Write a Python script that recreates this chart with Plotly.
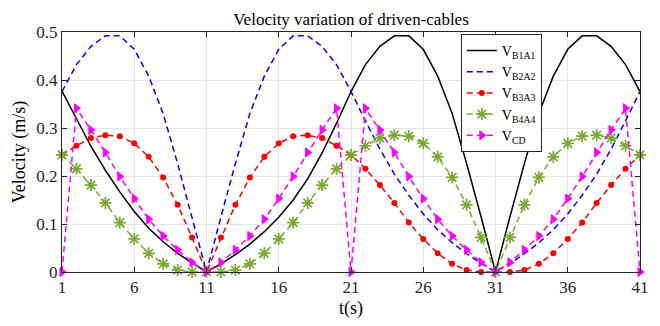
import plotly.graph_objects as go

t = list(range(1, 42))

v_b1a1 = [0.377, 0.320, 0.262, 0.212, 0.167, 0.126, 0.091, 0.063, 0.039, 0.019, 0.0,
          0.017, 0.036, 0.058, 0.084, 0.114, 0.150, 0.194, 0.248, 0.310,
          0.376, 0.432, 0.470, 0.492, 0.492, 0.464, 0.408, 0.330, 0.226, 0.115, 0.0,
          0.115, 0.226, 0.330, 0.408, 0.464, 0.492, 0.492, 0.470, 0.432, 0.376]

v_b2a2 = [0.376, 0.432, 0.470, 0.492, 0.492, 0.464, 0.408, 0.330, 0.226, 0.115, 0.0,
          0.115, 0.226, 0.330, 0.408, 0.464, 0.492, 0.492, 0.470, 0.432,
          0.376, 0.315, 0.256, 0.204, 0.160, 0.121, 0.088, 0.061, 0.038, 0.018, 0.0,
          0.018, 0.038, 0.061, 0.088, 0.121, 0.160, 0.204, 0.256, 0.315, 0.376]

v_b3a3 = [0.244, 0.263, 0.279, 0.285, 0.283, 0.268, 0.240, 0.197, 0.140, 0.072, 0.0,
          0.072, 0.140, 0.197, 0.240, 0.268, 0.283, 0.285, 0.279, 0.263,
          0.244, 0.215, 0.181, 0.144, 0.103, 0.069, 0.039, 0.017, 0.004, 0.0, 0.0,
          0.0, 0.004, 0.017, 0.039, 0.069, 0.103, 0.144, 0.181, 0.215, 0.244]

v_b4a4 = [0.244, 0.215, 0.181, 0.144, 0.103, 0.069, 0.039, 0.017, 0.004, 0.0, 0.0,
          0.0, 0.004, 0.017, 0.039, 0.069, 0.103, 0.144, 0.181, 0.215,
          0.244, 0.263, 0.279, 0.285, 0.283, 0.268, 0.240, 0.197, 0.140, 0.072, 0.0,
          0.072, 0.140, 0.197, 0.240, 0.268, 0.283, 0.285, 0.279, 0.263, 0.244]

v_cd = [0.0, 0.341, 0.296, 0.249, 0.199, 0.153, 0.110, 0.075, 0.046, 0.020, 0.0,
        0.020, 0.046, 0.075, 0.110, 0.153, 0.199, 0.249, 0.296, 0.341,
        0.0, 0.341, 0.296, 0.249, 0.199, 0.153, 0.110, 0.075, 0.046, 0.020, 0.0,
        0.020, 0.046, 0.075, 0.110, 0.153, 0.199, 0.249, 0.296, 0.341, 0.0]

x_ticks = [1, 6, 11, 16, 21, 26, 31, 36, 41]
y_ticks = [0, 0.1, 0.2, 0.3, 0.4, 0.5]
y_tick_labels = ["0", "0.1", "0.2", "0.3", "0.4", "0.5"]

FONT = "Liberation Serif"
AX = "#262626"

fig = go.Figure()
fig.add_trace(go.Scatter(x=t, y=v_b1a1, mode="lines", name="V<sub>B1A1</sub>",
                         line=dict(color="#000000", width=1.5), cliponaxis=False))
fig.add_trace(go.Scatter(x=t, y=v_b2a2, mode="lines", name="V<sub>B2A2</sub>",
                         line=dict(color="#0000FF", width=1.5, dash="6px,4px"), cliponaxis=False))
fig.add_trace(go.Scatter(x=t, y=v_b3a3, mode="lines+markers", name="V<sub>B3A3</sub>",
                         line=dict(color="#FF0000", width=1.5, dash="6px,4px"),
                         marker=dict(symbol="circle", size=6, color="#FF0000"), cliponaxis=False))
fig.add_trace(go.Scatter(x=t, y=v_b4a4, mode="lines+markers", name="V<sub>B4A4</sub>",
                         line=dict(color="#77AC30", width=1.5, dash="6px,4px"),
                         marker=dict(symbol="asterisk-open", size=10,
                                     line=dict(color="#77AC30", width=1.7)), cliponaxis=False))
fig.add_trace(go.Scatter(x=t, y=v_cd, mode="lines+markers", name="V<sub>CD</sub>",
                         line=dict(color="#FF00FF", width=1.5, dash="6px,4px"),
                         marker=dict(symbol="triangle-right", size=8, color="#FF00FF",
                                     line=dict(color="#FF00FF", width=1)), cliponaxis=False))

# The page body keeps the browser's default 8px margin, so the figure is
# sized 8px smaller and its margins trimmed to land the axes where intended.
fig.update_layout(
    width=652, height=318,
    margin=dict(l=54, r=20, t=24, b=54, autoexpand=False),
    paper_bgcolor="white", plot_bgcolor="white",
    font=dict(family=FONT, size=16, color=AX),
    title=dict(text="Velocity variation of driven-cables", x=0.5, xanchor="center",
               xref="paper", y=1, yref="paper", yanchor="bottom", pad=dict(b=7),
               font=dict(family=FONT, size=17, color="#000000")),
    showlegend=True,
    legend=dict(x=0.69, y=0.992, xanchor="left", yanchor="top",
                bgcolor="white", bordercolor="#262626", borderwidth=1,
                font=dict(family=FONT, size=14, color="#000000"),
                itemwidth=30, tracegroupgap=0),
)
fig.update_xaxes(range=[1, 41], tickmode="array", tickvals=x_ticks,
                 ticktext=[str(v) for v in x_ticks],
                 showgrid=True, gridcolor="#e6e6e6", gridwidth=1,
                 showline=True, linecolor=AX, linewidth=1, mirror="ticks",
                 ticks="inside", ticklen=5, tickcolor=AX, zeroline=False,
                 title=dict(text="t(s)", standoff=4, font=dict(family=FONT, size=18, color="#000000")),
                 tickfont=dict(family=FONT, size=17, color=AX))
fig.update_yaxes(range=[0, 0.5], tickmode="array", tickvals=y_ticks, ticktext=y_tick_labels,
                 showgrid=True, gridcolor="#e6e6e6", gridwidth=1,
                 showline=True, linecolor=AX, linewidth=1, mirror="ticks",
                 ticks="inside", ticklen=5, tickcolor=AX, zeroline=False,
                 title=dict(text="Velocity (m/s)", standoff=6, font=dict(family=FONT, size=18, color="#000000")),
                 tickfont=dict(family=FONT, size=17, color=AX))

fig.write_html("out.html")
